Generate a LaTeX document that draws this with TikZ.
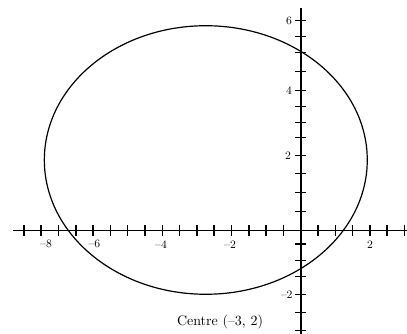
\documentclass[tikz,border=0pt]{standalone}
\begin{document}
\begin{tikzpicture}[x=0.75pt,y=-0.75pt,
  axis/.style={line width=1.2pt},
  tickmark/.style={line width=1.1pt},
  curve/.style={line width=0.9pt},
  lab/.style={font=\fontsize{8.5}{10}\selectfont, inner sep=0pt},
  caption/.style={font=\fontsize{10.5}{12}\selectfont, inner sep=0pt}]
\useasboundingbox (0,0) rectangle (407,334);
\coordinate (xl) at (13,230.7);
\coordinate (xr) at (407,230.7);
\coordinate (yt) at (300.7,8);
\coordinate (yb) at (300.7,334);
\draw[axis] (xl) -- (xr);
\draw[axis] (yt) -- (yb);
\foreach \i in {-16,...,-1,1,2,...,6}
  \draw[tickmark] ({300.7+17.3*\i},225.2) -- ++(0,11);
\foreach \y in {20.7,36.7,52.7,71.7,90.7,106.7,122.3,137.7,155.7,173.3,192.7,211.7,244,260.7,276.7,294.3,312.7,330.7}
  \draw[tickmark] (295.2,\y) -- (306.2,\y);
\draw[curve] (205.8,160) ellipse [x radius=121.1pt, y radius=100.7pt];
\node[lab] (lxm8) at (46,244.3) {--8};
\node[lab] (lxm6) at (94.3,244.3) {--6};
\node[lab] (lxm4) at (161,244.3) {--4};
\node[lab] (lxm2) at (230,244.3) {--2};
\node[lab] (lxp2) at (370,244.3) {2};
\node[lab] (lyp6) at (289,20.7) {6};
\node[lab] (lyp4) at (289,90.7) {4};
\node[lab] (lyp2) at (288,155.7) {2};
\node[lab] (lym2) at (286.7,294.3) {--2};
\node[caption] (centre) at (220,321.7) {Centre (--3, 2)};
\end{tikzpicture}
\end{document}
